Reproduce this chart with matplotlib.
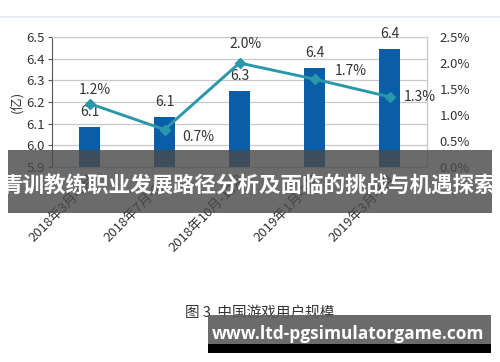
import matplotlib
matplotlib.use("Agg")
import matplotlib.pyplot as plt
from matplotlib.patches import Rectangle
import numpy as np

plt.rcParams['font.family'] = ['Noto Sans CJK SC', 'DejaVu Sans']

categories = ["2018年3月-6月", "2018年7月-9月", "2018年10月-12月", "2019年1月-3月", "2019年3月-6月"]
users = [6.085, 6.13, 6.25, 6.355, 6.445]
user_labels = ["6.1", "6.1", "6.3", "6.4", "6.4"]
growth = [1.22, 0.72, 2.0, 1.69, 1.35]
growth_labels = ["1.2%", "0.7%", "2.0%", "1.7%", "1.3%"]
left_ticks = [5.9, 6.0, 6.1, 6.2, 6.3, 6.4, 6.5]
right_ticks = [0.0, 0.5, 1.0, 1.5, 2.0, 2.5]
title = "青训教练职业发展路径分析及面临的挑战与机遇探索"
caption = "图 3  中国游戏用户规模"
site = "www.ltd-pgsimulatorgame.com"

W, H = 500, 362
fig = plt.figure(figsize=(5, 3.62), dpi=100)
fig.patch.set_facecolor("white")

# thin frame line at top of the picture
fig.add_artist(plt.Line2D([0, 1], [1 - 16.5 / H, 1 - 16.5 / H], color="#e3e8f0", lw=1.2))

ax = fig.add_axes([52 / W, 1 - 167 / H, 375 / W, 130 / H])
x = np.arange(len(categories))
ax.bar(x, [u - 5.9 for u in users], bottom=5.9, width=0.29, color="#0a5ea8", zorder=2)
ax.set_ylim(5.9, 6.5)
ax.set_xlim(-0.5, len(categories) - 0.5)
ax.set_yticks(left_ticks)
ax.set_yticklabels([f"{t:.1f}" for t in left_ticks], fontsize=9.5, color="#333333")
ax.yaxis.grid(True, color="#c8c8c8", lw=0.9, zorder=0)
ax.set_axisbelow(True)
for s in ["top", "right", "bottom"]:
    ax.spines[s].set_color("#c8c8c8")
ax.spines["left"].set_color("#555555")
ax.tick_params(axis="y", length=3, width=0.8, color="#555555", pad=2)
ax.set_xticks(x)
ax.set_xticklabels(categories, rotation=45, ha="right", rotation_mode="anchor",
                   fontsize=9.5, color="#333333")
ax.tick_params(axis="x", length=0, pad=4)
ax.set_ylabel("(亿)", fontsize=9.5, color="#333333", labelpad=2)

for xi, u, lab in zip(x, users, user_labels):
    ax.annotate(lab, (xi, u), xytext=(0, 11), textcoords="offset points",
                ha="center", va="center", fontsize=10, color="#333333", zorder=5)

ax2 = ax.twinx()
ax2.plot(x, growth, color="#2a98aa", lw=2.1, marker="D", markersize=5.5, zorder=4)
ax2.set_ylim(0, 2.5)
ax2.set_yticks(right_ticks)
ax2.set_yticklabels([f"{t:.1f}%" for t in right_ticks], fontsize=9.5, color="#333333")
ax2.tick_params(axis="y", length=0, pad=9)
for s in ["top", "left", "bottom"]:
    ax2.spines[s].set_visible(False)
ax2.spines["right"].set_color("#c8c8c8")

offsets = [(4, 10), (24, -5), (4, 14), (26, 6), (22, 0)]
for xi, g, lab, off in zip(x, growth, growth_labels, offsets):
    ax2.annotate(lab, (xi, g), xytext=off, textcoords="offset points",
                 ha="center", va="center", fontsize=10, color="#333333", zorder=5)

# caption
fig.text(260 / W, 1 - 313 / H, caption, ha="center", va="center", fontsize=10.5, color="#333333")

# title banner overlay
fig.add_artist(Rectangle((8 / W, 1 - 213 / H), 484 / W, 63 / H, transform=fig.transFigure,
                         facecolor="#4a4a4a", alpha=0.82, edgecolor="none", zorder=10))
fig.text(249 / W, 1 - 185 / H, title, ha="center", va="center", fontsize=15.5,
         fontweight="bold", color="white", zorder=11)

# site banner
fig.add_artist(Rectangle((208 / W, 1 - 344 / H), 283 / W, 29 / H, transform=fig.transFigure,
                         facecolor="#5e5e5e", alpha=0.92, edgecolor="none", zorder=10))
fig.add_artist(Rectangle((208 / W, 1 - 353 / H), 283 / W, 9 / H, transform=fig.transFigure,
                         facecolor="#000000", edgecolor="none", zorder=10))
fig.text(348 / W, 1 - 334 / H, site, ha="center", va="center", fontsize=12.5,
         fontweight="bold", color="white", family=["Open Sans", "DejaVu Sans"], zorder=11)

fig.savefig("out.png", dpi=100)
